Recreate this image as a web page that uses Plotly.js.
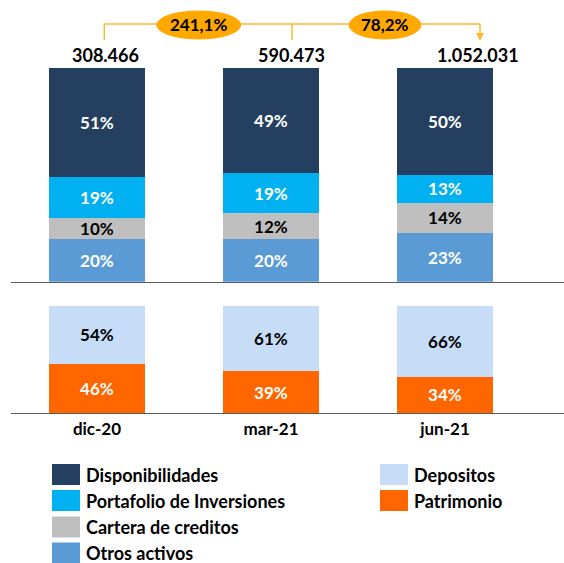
<!DOCTYPE html>
<html>
<head>
<meta charset="utf-8">
<script src="https://cdn.plot.ly/plotly-3.0.1.min.js"></script>
<style>html,body{margin:0;padding:0;background:#fff;}#chart{width:564px;height:563px;}</style>
</head>
<body>
<div id="chart"></div>
<script>
// ---- data ----
const categories = ['dic-20', 'mar-21', 'jun-21'];
const totals = ['308.466', '590.473', '1.052.031'];
const growth = ['241,1%', '78,2%'];
const disponibilidades = [51, 49, 50];
const portafolio = [19, 19, 13];
const cartera = [10, 12, 14];
const otrosActivos = [20, 20, 23];
const depositos = [54, 61, 66];
const patrimonio = [46, 39, 34];
const assetNames = ['Disponibilidades', 'Portafolio de Inversiones', 'Cartera de creditos', 'Otros activos'];
const liabNames = ['Depositos', 'Patrimonio'];

// ---- styles ----
const FONT = 'Lato, "Open Sans", sans-serif';
const assetColors = ['#253F60', '#00B0F0', '#BFBFBF', '#5B9BD5'];
const liabColors = ['#C6DCF7', '#FF6600'];
const assetText = ['#FFFFFF', '#FFFFFF', '#000000', '#FFFFFF'];
const liabText = ['#000000', '#FFFFFF'];
const ORANGE = '#FFA800';
const LINE = '#FDB92E';

const W = 564, H = 563, ML = 11, MR = 0, MT = 68, MB = 150;
const PW = W - ML - MR, PH = H - MT - MB;
const px = x => (x - ML) / PW;
const py = y => (H - MB - y) / PH;

function bar(name, y, color, tcolor, xa, ya) {
  return {
    type: 'bar', name: name, x: categories, y: y, xaxis: xa, yaxis: ya,
    width: 0.552, marker: {color: color, line: {width: 0}},
    texttemplate: '%{y}%', textposition: 'inside', insidetextanchor: 'middle',
    constraintext: 'none', textangle: 0,
    textfont: {family: FONT, size: 17, weight: 700, color: tcolor},
    hoverinfo: 'skip', showlegend: false
  };
}

const assetSeries = [disponibilidades, portafolio, cartera, otrosActivos];
const liabSeries = [depositos, patrimonio];
const traces = [];
for (let i = assetSeries.length - 1; i >= 0; i--) {
  traces.push(bar(assetNames[i], assetSeries[i], assetColors[i], assetText[i], 'x2', 'y'));
}
for (let i = liabSeries.length - 1; i >= 0; i--) {
  traces.push(bar(liabNames[i], liabSeries[i], liabColors[i], liabText[i], 'x', 'y2'));
}

const shapes = [];
const annotations = [];

// totals
const totalX = [105, 291.5, 478];
totals.forEach((t, i) => annotations.push({
  xref: 'paper', yref: 'paper', x: px(totalX[i]), y: py(54.5), text: t, showarrow: false,
  xanchor: 'center', yanchor: 'middle', font: {family: FONT, size: 18, weight: 700, color: '#000'}
}));

// connectors
const lineY = 24;
const vx = [104.3, 292, 480];
shapes.push({type: 'line', xref: 'paper', yref: 'paper', x0: px(vx[0]), x1: px(vx[2]), y0: py(lineY), y1: py(lineY), line: {color: LINE, width: 1.5}});
shapes.push({type: 'line', xref: 'paper', yref: 'paper', x0: px(vx[0]), x1: px(vx[0]), y0: py(lineY), y1: py(40), line: {color: LINE, width: 1.5}});
shapes.push({type: 'line', xref: 'paper', yref: 'paper', x0: px(vx[1]), x1: px(vx[1]), y0: py(lineY), y1: py(40), line: {color: LINE, width: 1.5}});
shapes.push({type: 'line', xref: 'paper', yref: 'paper', x0: px(vx[2]), x1: px(vx[2]), y0: py(lineY), y1: py(34), line: {color: LINE, width: 1.5}});
shapes.push({type: 'path', xref: 'paper', yref: 'paper',
  path: `M ${px(vx[2]-4)},${py(33)} L ${px(vx[2]+4)},${py(33)} L ${px(vx[2])},${py(41)} Z`,
  fillcolor: LINE, line: {color: LINE, width: 0}});

// growth ovals
const ovals = [{cx: 198.7, w: 84}, {cx: 385, w: 72}];
growth.forEach((g, i) => {
  const o = ovals[i];
  shapes.push({type: 'circle', xref: 'paper', yref: 'paper', layer: 'above',
    x0: px(o.cx - o.w / 2), x1: px(o.cx + o.w / 2), y0: py(39), y1: py(11),
    fillcolor: ORANGE, line: {color: ORANGE, width: 1}});
  annotations.push({xref: 'paper', yref: 'paper', x: px(o.cx), y: py(25), text: g, showarrow: false,
    xanchor: 'center', yanchor: 'middle', font: {family: FONT, size: 17, weight: 700, color: '#000'}});
});

// legend (manual, two columns)
function legendItem(name, color, xBox, yTop) {
  shapes.push({type: 'rect', xref: 'paper', yref: 'paper', x0: px(xBox), x1: px(xBox + 28),
    y0: py(yTop + 21), y1: py(yTop), fillcolor: color, line: {width: 0}});
  annotations.push({xref: 'paper', yref: 'paper', x: px(xBox + 32), y: py(yTop + 10.5), text: name,
    showarrow: false, xanchor: 'left', yanchor: 'middle',
    font: {family: FONT, size: 18, weight: 700, color: '#000'}});
}
const rowTops = [464, 490, 516.5, 542.5];
assetNames.forEach((n, i) => legendItem(n, assetColors[i], 52, rowTops[i]));
liabNames.forEach((n, i) => legendItem(n, liabColors[i], 380, rowTops[i]));

const xr = [-0.494, 2.684];
const layout = {
  width: W, height: H,
  margin: {l: ML, r: MR, t: MT, b: MB, pad: 0},
  paper_bgcolor: '#fff', plot_bgcolor: '#fff',
  barmode: 'stack', showlegend: false,
  font: {family: FONT, color: '#000'},
  xaxis: {type: 'category', range: xr, anchor: 'y2', showline: true, linecolor: '#595959', linewidth: 1.3,
    showgrid: false, zeroline: false, ticks: '', fixedrange: true,
    tickfont: {family: FONT, size: 17, weight: 700, color: '#000'}},
  xaxis2: {type: 'category', range: xr, anchor: 'y', matches: 'x', showline: true, linecolor: '#595959', linewidth: 1.3,
    showgrid: false, zeroline: false, ticks: '', showticklabels: false},
  yaxis: {domain: [py(281.7), 1], range: [0, 100], anchor: 'x2', visible: false, showgrid: false, zeroline: false},
  yaxis2: {domain: [0, py(306)], range: [0, 100], anchor: 'x', visible: false, showgrid: false, zeroline: false},
  shapes: shapes,
  annotations: annotations
};

Plotly.newPlot('chart', traces, layout, {staticPlot: true, displayModeBar: false});
</script>
</body>
</html>
